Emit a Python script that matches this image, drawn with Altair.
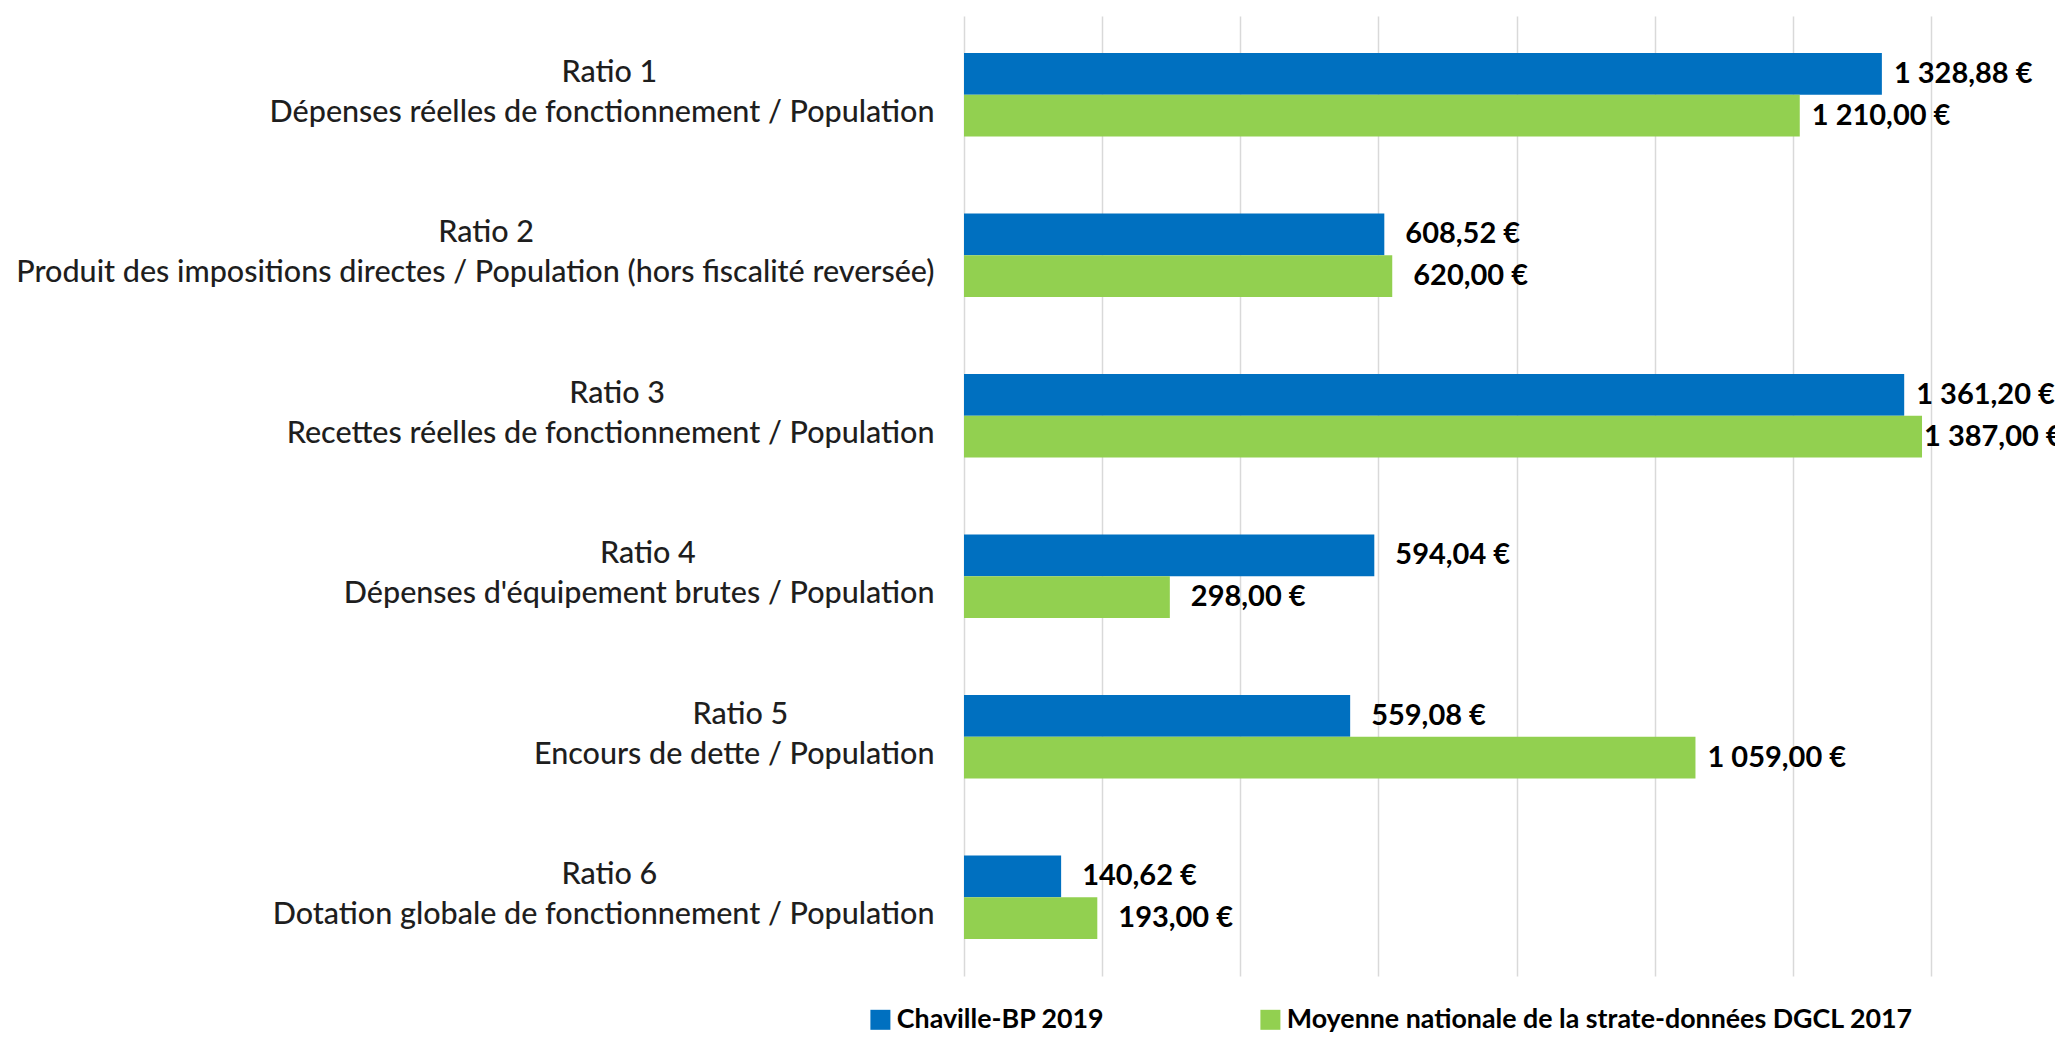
import altair as alt
import pandas as pd

ratio_names = ["Ratio 1", "Ratio 2", "Ratio 3", "Ratio 4", "Ratio 5", "Ratio 6"]
ratio_desc = [
    "Dépenses réelles de fonctionnement / Population",
    "Produit des impositions directes / Population (hors fiscalité reversée)",
    "Recettes réelles de fonctionnement / Population",
    "Dépenses d'équipement brutes / Population",
    "Encours de dette / Population",
    "Dotation globale de fonctionnement / Population",
]
series = ["Chaville-BP 2019", "Moyenne nationale de la strate-données DGCL 2017"]
chaville = [1328.88, 608.52, 1361.20, 594.04, 559.08, 140.62]
moyenne = [1210.00, 620.00, 1387.00, 298.00, 1059.00, 193.00]
colors = ["#0070C0", "#92D050"]
x_ticks = [0, 200, 400, 600, 800, 1000, 1200, 1400]

FONT = "Lato"

# approximate glyph advance widths (em) to centre the first label line over the second
_w = {
    "a": 0.49, "b": 0.55, "c": 0.45, "d": 0.55, "e": 0.51, "é": 0.51, "f": 0.32,
    "g": 0.50, "h": 0.55, "i": 0.23, "j": 0.23, "k": 0.49, "l": 0.23, "m": 0.82,
    "n": 0.55, "o": 0.55, "p": 0.55, "q": 0.55, "r": 0.36, "s": 0.41, "t": 0.34,
    "u": 0.55, "v": 0.49, "w": 0.75, "x": 0.48, "y": 0.49, "z": 0.44, " ": 0.19,
    "/": 0.36, "(": 0.29, ")": 0.29, "'": 0.19, "D": 0.72, "P": 0.58, "R": 0.60,
    "E": 0.54,
}
NBSP_W = 0.247


def width(s):
    return sum(_w.get(ch, 0.58) for ch in s)


NBSP = "\u00a0"
ZWSP = "\u200b"  # keeps the padding from being trimmed
keys = []
for name, desc in zip(ratio_names, ratio_desc):
    pad = (width(desc) - width(name)) / 2.0
    n = max(0, round(pad / NBSP_W))
    keys.append(name + NBSP * n + ZWSP + "|" + desc)


def fr(v):
    return f"{v:,.2f}".replace(",", " ").replace(".", ",") + " €"


rows = []
for k, a, b in zip(keys, chaville, moyenne):
    rows.append({"key": k, "series": series[0], "value": a, "label": fr(a)})
    rows.append({"key": k, "series": series[1], "value": b, "label": fr(b)})
df = pd.DataFrame(rows)

y_enc = alt.Y(
    "key:N",
    sort=keys,
    scale=alt.Scale(paddingInner=0.48, paddingOuter=0.23),
    axis=alt.Axis(
        title=None,
        labelExpr="split(datum.value, '|')",
        labelFont=FONT,
        labelFontSize=30.5,
        labelFontWeight=500,
        labelLineHeight=40,
        labelColor="#1e1e1e",
        labelPadding=30,
        labelOffset=-22,
        labelLimit=2000,
        labelAlign="right",
        labelBaseline="middle",
        ticks=False,
        domain=False,
        grid=False,
    ),
)
yoff = alt.YOffset("series:N", sort=series, scale=alt.Scale(paddingInner=0, paddingOuter=0))
x_enc = alt.X(
    "value:Q",
    scale=alt.Scale(domain=[0, 1400], nice=False, zero=True),
    axis=alt.Axis(
        values=x_ticks,
        labels=False,
        ticks=False,
        domain=False,
        grid=True,
        gridColor="#d9d9d9",
        gridWidth=1.5,
        title=None,
    ),
)

bars = alt.Chart(df).mark_bar().encode(
    y=y_enc,
    yOffset=yoff,
    x=x_enc,
    color=alt.Color(
        "series:N",
        sort=series,
        scale=alt.Scale(domain=series, range=colors),
        legend=alt.Legend(
            title=None,
            orient="none",
            direction="horizontal",
            legendX=-97,
            legendY=990,
            symbolType="square",
            symbolSize=400,
            symbolStrokeWidth=0,
            labelFont=FONT,
            labelFontSize=26.8,
            labelFontWeight="bold",
            labelColor="#000000",
            labelLimit=2000,
            columnPadding=152,
            symbolOffset=0,
            labelOffset=3,
        ),
    ),
)

label_base = alt.Chart(df).encode(
    y=alt.Y("key:N", sort=keys),
    yOffset=alt.YOffset("series:N", sort=series),
    x=alt.X("value:Q"),
    text="label:N",
)
text_style = dict(align="left", baseline="middle", font=FONT, fontSize=29, fontWeight="bold", color="#000000")
# labels next to the longest bar are pulled in so they stay inside the chart, as in the original
labels_edge = label_base.transform_filter("datum.value > 1380").mark_text(dx=2, **text_style)
labels_big = label_base.transform_filter("datum.value >= 1000 && datum.value <= 1380").mark_text(dx=12, **text_style)
labels_small = label_base.transform_filter("datum.value < 1000").mark_text(dx=21, **text_style)

chart = (
    alt.layer(bars, labels_big, labels_small, labels_edge)
    .properties(
        width=967,
        height=960,
        autosize=alt.AutoSizeParams(type="none"),
        padding={"left": 956, "top": 8, "right": 124, "bottom": 58},
        background="#ffffff",
    )
    .configure_view(stroke=None)
)

chart.save("out.html", embed_options={"renderer": "svg", "actions": False})
